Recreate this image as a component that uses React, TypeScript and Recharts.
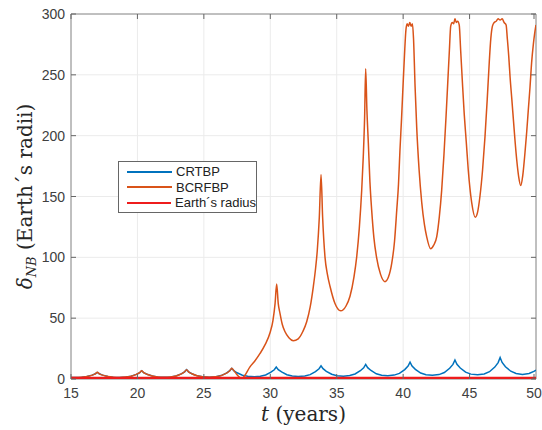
import { LineChart, Line, XAxis, YAxis, CartesianGrid, ReferenceArea, Label } from 'recharts';

// t (years), distance (Earth radii)
const xTicks = [15, 20, 25, 30, 35, 40, 45, 50];
const yTicks = [0, 50, 100, 150, 200, 250, 300];

const crtbp: [number, number][] = [
  [15.0, 1.3], [15.3, 1.2], [15.8, 1.4], [16.2, 2.0], [16.6, 3.2], [16.83, 4.3], [16.98, 5.5],
  [17.13, 4.3], [17.38, 3.2], [17.78, 2.0], [18.18, 1.5], [18.65, 1.3],
  [19.12, 1.6], [19.52, 2.3], [19.92, 3.8], [20.17, 5.2], [20.32, 6.8],
  [20.47, 5.2], [20.72, 3.9], [21.12, 2.4], [21.52, 1.7], [22.0, 1.4],
  [22.5, 1.7], [22.9, 2.5], [23.3, 4.2], [23.55, 5.9], [23.7, 7.7],
  [23.85, 5.9], [24.1, 4.3], [24.5, 2.6], [24.9, 1.8], [25.4, 1.5],
  [25.9, 1.9], [26.3, 2.8], [26.7, 4.8], [26.95, 6.8], [27.1, 8.8],
  [27.25, 6.9], [27.5, 5.1], [27.9, 3.1], [28.3, 2.2], [28.8, 1.8],
  [29.25, 2.2], [29.65, 3.3], [30.05, 5.6], [30.3, 7.6], [30.45, 9.8],
  [30.6, 7.7], [30.85, 5.8], [31.25, 3.5], [31.65, 2.4], [32.1, 2.0],
  [32.6, 2.4], [33.0, 3.6], [33.4, 6.1], [33.67, 8.4], [33.82, 10.9],
  [33.97, 8.5], [34.22, 6.3], [34.62, 3.9], [35.02, 2.7], [35.5, 2.3],
  [35.98, 2.8], [36.38, 4.1], [36.78, 6.8], [37.03, 9.2], [37.18, 12.0],
  [37.33, 9.3], [37.58, 7.0], [37.98, 4.3], [38.38, 3.1], [38.85, 2.6],
  [39.32, 3.2], [39.72, 4.6], [40.12, 7.7], [40.37, 10.6], [40.52, 13.8],
  [40.67, 10.7], [40.92, 7.9], [41.32, 4.9], [41.72, 3.5], [42.2, 3.0],
  [42.7, 3.6], [43.1, 5.3], [43.5, 8.8], [43.75, 12.0], [43.9, 15.6],
  [44.05, 12.1], [44.3, 9.0], [44.7, 5.6], [45.1, 4.0], [45.6, 3.4],
  [46.1, 4.1], [46.5, 6.0], [46.9, 9.8], [47.15, 13.5], [47.3, 17.6],
  [47.45, 13.6], [47.7, 10.1], [48.1, 6.4], [48.5, 4.5], [48.98, 3.8],
  [49.48, 4.5], [49.88, 6.5], [50.0, 7.4],
];

const bcrfbp: [number, number][] = [
  [15.0, 1.3], [15.3, 1.2], [15.8, 1.4], [16.2, 2.0], [16.6, 3.2], [16.83, 4.3], [16.98, 5.5],
  [17.13, 4.3], [17.38, 3.2], [17.78, 2.0], [18.18, 1.5], [18.65, 1.3],
  [19.12, 1.6], [19.52, 2.3], [19.92, 3.8], [20.17, 5.2], [20.32, 6.8],
  [20.47, 5.2], [20.72, 3.9], [21.12, 2.4], [21.52, 1.7], [22.0, 1.4],
  [22.5, 1.7], [22.9, 2.5], [23.3, 4.2], [23.55, 5.9], [23.7, 7.7],
  [23.85, 5.9], [24.1, 4.3], [24.5, 2.6], [24.9, 1.8], [25.4, 1.5],
  [25.9, 1.9], [26.3, 2.8], [26.7, 4.8], [26.95, 6.8], [27.1, 8.8],
  [27.25, 6.9], [27.45, 4.2], [27.65, 1.8], [27.85, 0.3], [28.05, 2.5],
  [28.47, 10], [28.85, 15], [29.23, 21], [29.6, 28], [29.98, 38],
  [30.2, 48], [30.36, 62], [30.48, 78], [30.6, 62], [30.73, 54],
  [30.9, 45], [31.1, 39], [31.4, 34], [31.73, 31.5], [32.1, 33],
  [32.45, 39], [32.74, 47], [33.0, 59], [33.24, 76], [33.4, 90],
  [33.54, 106], [33.69, 133], [33.82, 168], [33.94, 133], [34.12, 100],
  [34.3, 86], [34.5, 76], [34.87, 62], [35.3, 56], [35.7, 60],
  [36.0, 68], [36.3, 84], [36.5, 100], [36.7, 124], [36.88, 155],
  [37.0, 183], [37.1, 215], [37.18, 255], [37.27, 222], [37.38, 194],
  [37.5, 162], [37.63, 139], [37.8, 116], [38.0, 100], [38.3, 86],
  [38.63, 80], [38.9, 84], [39.14, 95], [39.35, 113], [39.52, 139],
  [39.65, 160], [39.76, 188], [39.88, 214], [40.0, 243], [40.1, 266],
  [40.21, 287], [40.3, 292], [40.4, 290], [40.5, 293], [40.6, 290],
  [40.7, 292], [40.78, 280], [40.9, 240], [41.02, 207], [41.2, 172],
  [41.4, 145], [41.6, 127], [41.77, 117], [42.07, 107], [42.3, 110],
  [42.53, 117], [42.72, 133], [42.9, 155], [43.07, 184], [43.23, 216],
  [43.36, 244], [43.48, 270], [43.58, 290], [43.7, 293], [43.8, 292],
  [43.9, 296], [44.0, 293], [44.1, 294], [44.22, 291], [44.33, 270],
  [44.45, 246], [44.58, 221], [44.75, 195], [44.9, 172], [45.16, 145],
  [45.43, 133], [45.6, 137], [45.78, 150], [45.98, 172], [46.16, 199],
  [46.33, 230], [46.48, 260], [46.6, 280], [46.72, 290], [46.85, 293],
  [47.0, 294], [47.15, 296], [47.3, 295], [47.45, 296], [47.6, 293],
  [47.75, 291], [47.84, 280], [47.95, 265], [48.05, 248], [48.18, 230],
  [48.3, 213], [48.42, 196], [48.55, 180], [48.7, 166], [48.85, 159],
  [49.0, 167], [49.17, 186], [49.3, 203], [49.42, 221], [49.55, 240],
  [49.67, 260], [49.8, 275], [49.9, 284], [50.0, 291],
];

const earthRadius: [number, number][] = [[15, 1], [50, 1]];

const seriesNames = ['CRTBP', 'BCRFBP', 'Earth´s radius'];
const seriesColors = ['#0072BD', '#D95319', '#EE1C1C'];

const toRows = (pts: [number, number][]) => pts.map(([t, v]) => ({ t, v }));

const PLOT_TOP = 14;
const PLOT_BOTTOM = 379;
const PLOT_LEFT = 71;
const PLOT_RIGHT = 536;
const TICK_LEN = 5;
const TICK_FONT = 'Liberation Sans, Arial, Helvetica, sans-serif';
const LABEL_FONT = 'DejaVu Serif, Liberation Serif, serif';

function XTick({ x, payload }: any) {
  return (
    <g>
      <line x1={x} x2={x} y1={PLOT_BOTTOM} y2={PLOT_BOTTOM - TICK_LEN} stroke="#666" />
      <line x1={x} x2={x} y1={PLOT_TOP} y2={PLOT_TOP + TICK_LEN} stroke="#666" />
      <text x={x} y={PLOT_BOTTOM + 19} textAnchor="middle" fontSize={14} fontFamily={TICK_FONT} fill="#404040">
        {payload.value}
      </text>
    </g>
  );
}

function YTick({ y, payload }: any) {
  return (
    <g>
      <line x1={PLOT_LEFT} x2={PLOT_LEFT + TICK_LEN} y1={y} y2={y} stroke="#666" />
      <line x1={PLOT_RIGHT} x2={PLOT_RIGHT - TICK_LEN} y1={y} y2={y} stroke="#666" />
      <text x={PLOT_LEFT - 6} y={y + 5} textAnchor="end" fontSize={14} fontFamily={TICK_FONT} fill="#404040">
        {payload.value}
      </text>
    </g>
  );
}

function XTitle({ viewBox }: any) {
  const cx = viewBox.x + viewBox.width / 2;
  return (
    <text x={cx} y={421} textAnchor="middle" fontSize={20} fontFamily={LABEL_FONT} fill="#262626">
      <tspan fontStyle="italic">t</tspan>
      <tspan> (years)</tspan>
    </text>
  );
}

function YTitle({ viewBox }: any) {
  const cy = viewBox.y + viewBox.height / 2;
  return (
    <text
      x={32}
      y={cy}
      transform={`rotate(-90 32 ${cy})`}
      textAnchor="middle"
      fontSize={20}
      fontFamily={LABEL_FONT}
      fill="#262626"
    >
      <tspan fontStyle="italic">δ</tspan>
      <tspan fontStyle="italic" fontSize={13} dy={4}>NB</tspan>
      <tspan dy={-4}> (Earth´s radii)</tspan>
    </text>
  );
}

function LegendBox() {
  return (
    <div
      style={{
        position: 'absolute',
        left: 118,
        top: 161,
        width: 139,
        height: 52,
        boxSizing: 'border-box',
        border: '1px solid #666',
        background: '#fff',
        padding: '2px 0 0 8px',
        fontFamily: TICK_FONT,
        fontSize: 13,
        color: '#222',
        lineHeight: '15.5px',
      }}
    >
      {seriesNames.map((name, i) => (
        <div key={name} style={{ display: 'flex', alignItems: 'center', whiteSpace: 'nowrap' }}>
          <span style={{ display: 'inline-block', width: 45, height: 2, background: seriesColors[i], marginRight: 4 }} />
          <span>{name}</span>
        </div>
      ))}
    </div>
  );
}

export default function App() {
  return (
    <div style={{ position: 'absolute', left: 0, top: 0, width: 542, height: 430, background: '#fff' }}>
      <LineChart width={542} height={430} margin={{ top: 14, right: 6, bottom: 21, left: 21 }}>
        <CartesianGrid stroke="#ebebeb" strokeWidth={1} />
        <XAxis
          dataKey="t"
          type="number"
          domain={[15, 50]}
          ticks={xTicks}
          allowDataOverflow
          axisLine={false}
          tickLine={false}
          tick={<XTick />}
          height={30}
        >
          <Label content={<XTitle />} />
        </XAxis>
        <YAxis
          type="number"
          domain={[0, 300]}
          ticks={yTicks}
          allowDataOverflow
          axisLine={false}
          tickLine={false}
          tick={<YTick />}
          width={50}
        >
          <Label content={<YTitle />} />
        </YAxis>
        <ReferenceArea x1={15} x2={50} y1={0} y2={300} fill="none" stroke="#8a8a8a" strokeWidth={1} ifOverflow="visible" />
        <Line
          data={toRows(crtbp)}
          dataKey="v"
          name={seriesNames[0]}
          type="linear"
          stroke={seriesColors[0]}
          strokeWidth={1.5}
          dot={false}
          isAnimationActive={false}
        />
        <Line
          data={toRows(bcrfbp)}
          dataKey="v"
          name={seriesNames[1]}
          type="monotone"
          stroke={seriesColors[1]}
          strokeWidth={1.5}
          dot={false}
          isAnimationActive={false}
        />
        <Line
          data={toRows(earthRadius)}
          dataKey="v"
          name={seriesNames[2]}
          type="linear"
          stroke={seriesColors[2]}
          strokeWidth={2.2}
          dot={false}
          isAnimationActive={false}
        />
      </LineChart>
      <LegendBox />
    </div>
  );
}
